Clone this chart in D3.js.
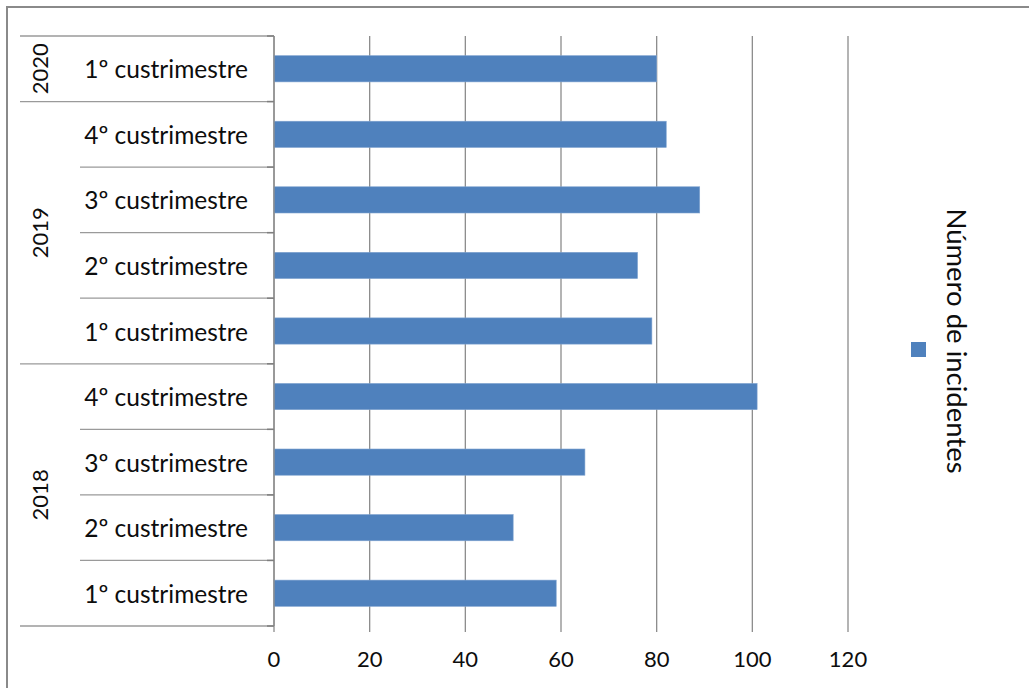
<!DOCTYPE html>
<html>
<head>
<meta charset="utf-8">
<script src="https://cdn.jsdelivr.net/npm/d3@7"></script>
<style>
  html, body { margin: 0; padding: 0; background: #fff; }
  svg { display: block; font-family: Lato, "Open Sans", sans-serif; }
</style>
</head>
<body>
<svg id="chart" width="1029" height="688"></svg>
<script>
// ---- data (top to bottom as drawn) ----
const years    = ["2020", "2019", "2019", "2019", "2019", "2018", "2018", "2018", "2018"];
const quarters = ["1º custrimestre", "4º custrimestre", "3º custrimestre", "2º custrimestre", "1º custrimestre",
                  "4º custrimestre", "3º custrimestre", "2º custrimestre", "1º custrimestre"];
const values   = [80, 82, 89, 76, 79, 101, 65, 50, 59];
const xTicks   = [0, 20, 40, 60, 80, 100, 120];
const seriesName = "Número de incidentes";

const rows = years.map((y, i) => ({ id: y + "-" + quarters[i], year: y, q: quarters[i], v: values[i] }));

const svg = d3.select("#chart");
const pLeft = 274, pRight = 848, pTop = 36, pBottom = 626;
const gridColor = "#8c8c8c";
const barColor = "#4f81bd";
const textColor = "#0d0d0d";

// outer border (chart area cropped at right/bottom)
svg.append("rect").attr("x", 7).attr("y", 7).attr("width", 1200).attr("height", 900)
  .attr("fill", "none").attr("stroke", "#8a8a8a").attr("stroke-width", 2);

const x = d3.scaleLinear().domain([0, 120]).range([pLeft, pRight]);
const y = d3.scaleBand().domain(rows.map(d => d.id)).range([pTop, pBottom])
  .paddingInner(0.6).paddingOuter(0.3);
const step = y.step();
const rowTop = id => y(id) - (step - y.bandwidth()) / 2;

// vertical gridlines + ticks
svg.append("g").selectAll("line").data(xTicks).join("line")
  .attr("x1", d => x(d)).attr("x2", d => x(d))
  .attr("y1", pTop).attr("y2", pBottom + 6)
  .attr("stroke", gridColor).attr("stroke-width", 1.3);

// x tick labels
svg.append("g").selectAll("text").data(xTicks).join("text")
  .attr("x", d => x(d)).attr("y", 658)
  .attr("text-anchor", "middle").attr("dominant-baseline", "central")
  .attr("font-size", 22).attr("fill", textColor)
  .text(d => d);

// bars
svg.append("g").selectAll("rect").data(rows).join("rect")
  .attr("x", x(0)).attr("y", d => y(d.id))
  .attr("width", d => x(d.v) - x(0)).attr("height", y.bandwidth())
  .attr("fill", barColor).attr("stroke", "#7fa3d0").attr("stroke-width", 0.6);

// category axis line
svg.append("line").attr("x1", pLeft).attr("x2", pLeft).attr("y1", pTop).attr("y2", pBottom)
  .attr("stroke", gridColor).attr("stroke-width", 1.3);

// category separator lines
const boundaries = [];
rows.forEach((d, i) => {
  const isYearStart = i === 0 || rows[i - 1].year !== d.year;
  boundaries.push({ yv: rowTop(d.id), x0: isYearStart ? 20 : 80 });
});
boundaries.push({ yv: rowTop(rows[rows.length - 1].id) + step, x0: 20 });
svg.append("g").selectAll("line").data(boundaries).join("line")
  .attr("x1", d => d.x0).attr("x2", pLeft)
  .attr("y1", d => d.yv).attr("y2", d => d.yv)
  .attr("stroke", "#9a9a9a").attr("stroke-width", 1.3);
svg.append("g").selectAll("line").data(boundaries).join("line")
  .attr("x1", pLeft - 7).attr("x2", pLeft)
  .attr("y1", d => d.yv).attr("y2", d => d.yv)
  .attr("stroke", "#7f7f7f").attr("stroke-width", 1.5);

// category labels
svg.append("g").selectAll("text").data(rows).join("text")
  .attr("x", 248).attr("y", d => y(d.id) + y.bandwidth() / 2)
  .attr("text-anchor", "end").attr("dominant-baseline", "central")
  .attr("font-size", 24.5).attr("fill", textColor)
  .text(d => d.q);

// year labels
const yearGroups = d3.groups(rows, d => d.year).map(([yr, rs]) => ({
  yr, mid: (rowTop(rs[0].id) + rowTop(rs[rs.length - 1].id) + step) / 2
}));
svg.append("g").selectAll("text").data(yearGroups).join("text")
  .attr("transform", d => `translate(39,${d.mid}) rotate(-90)`)
  .attr("text-anchor", "middle").attr("dominant-baseline", "central")
  .attr("font-size", 22).attr("fill", textColor)
  .text(d => d.yr);

// legend
svg.append("rect").attr("x", 911).attr("y", 342).attr("width", 15).attr("height", 15)
  .attr("fill", barColor);
svg.append("text")
  .attr("transform", "translate(957,341) rotate(90)")
  .attr("text-anchor", "middle").attr("dominant-baseline", "central")
  .attr("font-size", 27.5).attr("fill", textColor)
  .text(seriesName);
</script>
</body>
</html>
